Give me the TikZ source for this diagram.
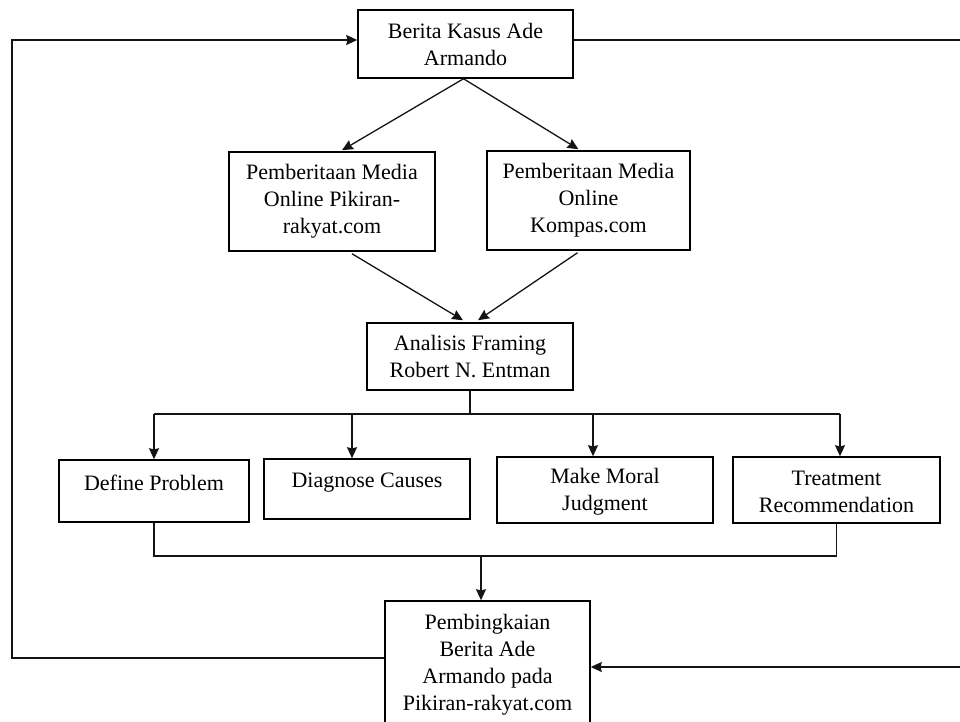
\documentclass[tikz,border=0pt]{standalone}
\usepackage{fontspec}
\setmainfont{Liberation Serif}
\usetikzlibrary{
  positioning,
  arrows.meta,
  calc
}
\definecolor{linecol}{RGB}{20,20,20}
\definecolor{boxcol}{RGB}{0,0,0}
\tikzset{
  box/.style={
    rectangle,
    draw=boxcol,
    line width=0.75pt,
    fill=white,
    align=center,
    inner sep=0pt,
    font=\fontsize{11}{13.5}\selectfont
  },
  boxtext/.style={
    align=center,
    inner sep=0pt,
    font=\fontsize{11}{13.5}\selectfont
  },
  arrow/.style={
    -{Stealth[length=5.5pt,width=5pt,inset=0.6pt]},
    line width=0.65pt,
    color=linecol
  },
  link/.style={
    line width=0.65pt,
    color=linecol
  }
}

\begin{document}
\begin{tikzpicture}[x=0.5pt, y=-0.5pt]

  \useasboundingbox (0,0) rectangle (960,722);
  \clip (0,0) rectangle (960,722);

  % Source news
  \node[box, minimum width=107.5pt, minimum height=34pt] (berita) at (465.5,44) {Berita Kasus Ade\\Armando};

  % Online media
  \node[box, minimum width=103pt, minimum height=49.5pt] (pikiran) at (332,201.5) {Pemberitaan Media\\Online Pikiran-\\rakyat.com};
  \node[box, minimum width=101.5pt, minimum height=49.5pt] (kompas) at (588.5,200.5) {Pemberitaan Media\\Online\\Kompas.com};

  % Framing analysis
  \node[box, minimum width=103pt, minimum height=33.5pt] (analisis) at (470,356.5) {Analisis Framing\\Robert N. Entman};

  % Entman elements
  \node[box, minimum width=95pt, minimum height=31pt] (define) at (154,491) {};
  \node[boxtext] (define-t) at (154,483) {Define Problem};

  \node[box, minimum width=103pt, minimum height=30pt] (diagnose) at (367,489) {};
  \node[boxtext] (diagnose-t) at (367,483) {Diagnose Causes};

  \node[box, minimum width=108pt, minimum height=33pt] (moral) at (605,490) {};
  \node[boxtext] (moral-t) at (605,491.5) {Make Moral\\Judgment};

  \node[box, minimum width=103.5pt, minimum height=33pt] (treatment) at (836.5,490) {};
  \node[boxtext] (treatment-t) at (836.5,491.5) {Treatment\\Recommendation};

  % Result
  \node[box, minimum width=102.5pt, minimum height=64pt] (hasil) at (487.5,665) {Pembingkaian\\Berita Ade\\Armando pada\\Pikiran-rakyat.com};

  % Helper coordinates
  \coordinate (bus) at (0,414);
  \coordinate (merge) at (481,556);
  \coordinate (lft) at (12,0);
  \coordinate (rgt) at (970,0);

  % Source to media
  \draw[arrow] ([xshift=-1pt]berita.south) -- ($(pikiran.north)+(10,-1)$);
  \draw[arrow] ([xshift=-1pt]berita.south) -- ($(kompas.north)+(-10,-1)$);

  % Media to analysis
  \draw[arrow] ($(pikiran.south)+(20,2)$) -- ($(analisis.north)+(-7,-2)$);
  \draw[arrow] ($(kompas.south)+(-11,2)$) -- ($(analisis.north)+(8,-2)$);

  % Analysis to elements
  \draw[link] (analisis.south) -- (analisis.south |- bus);
  \draw[link] (define.north |- bus) -- ([xshift=1.75pt]treatment.north |- bus);
  \draw[arrow] (define.north |- bus) -- (define.north);
  \draw[arrow] ([xshift=-7.5pt]diagnose.north |- bus) -- ([xshift=-7.5pt]diagnose.north);
  \draw[arrow] ([xshift=-6pt]moral.north |- bus) -- ([xshift=-6pt]moral.north);
  \draw[arrow] ([xshift=1.75pt]treatment.north |- bus) -- ([xshift=1.75pt]treatment.north);

  % Elements to result
  \draw[link] (define.south) |- (merge -| treatment.south) -- (treatment.south);
  \draw[arrow] (merge) -- (merge |- hasil.north);

  % Feedback loops
  \draw[arrow] ([yshift=3.5pt]hasil.west) -- ([yshift=3.5pt]hasil.west -| lft) |- ([yshift=2pt]berita.west);
  \draw[link] ([yshift=2pt]berita.east) -- ([yshift=2pt]berita.east -| rgt);
  \draw[arrow] ([yshift=-1pt]hasil.east -| rgt) -- ([yshift=-1pt]hasil.east);

\end{tikzpicture}
\end{document}
